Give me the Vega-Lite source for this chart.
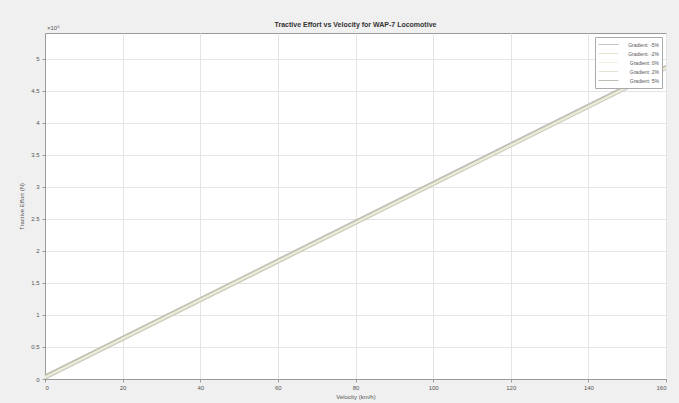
{
  "$schema": "https://vega.github.io/schema/vega-lite/v6.json",
  "autosize": {"type": "none"},
  "width": 621,
  "height": 346,
  "padding": {"left": 45, "top": 33, "right": 13, "bottom": 24},
  "background": "#f0f0f0",
  "title": {"text": "Tractive Effort vs Velocity for WAP-7 Locomotive", "fontSize": 7, "fontWeight": "bold", "color": "#333", "font": "Liberation Sans", "offset": -3},
  "config": {
    "view": {"fill": "white", "stroke": "#999", "strokeWidth": 1},
    "axis": {"labelFont": "Liberation Sans", "titleFont": "Liberation Sans", "labelFontSize": 6, "titleFontSize": 6, "labelColor": "#555", "titleColor": "#555", "titleFontWeight": "normal", "gridColor": "#e4e4e4", "domainColor": "#999", "tickColor": "#999", "tickSize": 3}
  },
  "datasets": {
    "lines": [
      {"v": 0, "F": 0, "g": "Gradient: -5%"},
      {"v": 160, "F": 483000, "g": "Gradient: -5%"},
      {"v": 0, "F": 1800, "g": "Gradient: -2%"},
      {"v": 160, "F": 484800, "g": "Gradient: -2%"},
      {"v": 0, "F": 3000, "g": "Gradient: 0%"},
      {"v": 160, "F": 486000, "g": "Gradient: 0%"},
      {"v": 0, "F": 4200, "g": "Gradient: 2%"},
      {"v": 160, "F": 487200, "g": "Gradient: 2%"},
      {"v": 0, "F": 6000, "g": "Gradient: 5%"},
      {"v": 160, "F": 489000, "g": "Gradient: 5%"}
    ],
    "exp": [{"v": 0, "F": 540000, "t": "×10⁵"}]
  },
  "layer": [
    {
      "data": {"name": "lines"},
      "mark": {"type": "line", "strokeWidth": 1.5, "clip": true},
      "encoding": {
        "x": {"field": "v", "type": "quantitative", "scale": {"domain": [0, 160], "nice": false}, "axis": {"values": [0, 20, 40, 60, 80, 100, 120, 140, 160], "title": "Velocity (km/h)", "titlePadding": 3, "labelPadding": 2}},
        "y": {"field": "F", "type": "quantitative", "scale": {"domain": [0, 540000], "nice": false}, "axis": {"values": [0, 50000, 100000, 150000, 200000, 250000, 300000, 350000, 400000, 450000, 500000], "labelExpr": "format(datum.value / 100000, '')", "labelOverlap": false, "title": "Tractive Effort (N)", "titlePadding": 6, "labelPadding": 3}},
        "color": {"field": "g", "type": "nominal", "sort": ["Gradient: -5%", "Gradient: -2%", "Gradient: 0%", "Gradient: 2%", "Gradient: 5%"],
          "scale": {"range": ["#c4c4bc", "#e6e6d0", "#f2f2dc", "#e6e6d0", "#bcbcb4"]},
          "legend": {"title": null, "orient": "top-right", "offset": 4, "symbolType": "stroke", "symbolSize": 400, "symbolStrokeWidth": 1, "labelFontSize": 5, "labelFont": "Liberation Sans", "labelColor": "#555", "fillColor": "white", "strokeColor": "#aaa", "padding": 3, "rowPadding": 0, "clipHeight": 9, "labelAlign": "right", "labelOffset": 40, "symbolOffset": 0}}
      }
    },
    {
      "data": {"name": "exp"},
      "mark": {"type": "text", "fontSize": 6, "font": "Liberation Sans", "color": "#555", "align": "left", "dy": -5, "dx": 2},
      "encoding": {
        "x": {"field": "v", "type": "quantitative", "scale": {"domain": [0, 160], "nice": false}, "axis": {"values": [0, 20, 40, 60, 80, 100, 120, 140, 160], "title": "Velocity (km/h)", "titlePadding": 3, "labelPadding": 2}},
        "y": {"field": "F", "type": "quantitative", "scale": {"domain": [0, 540000], "nice": false}, "axis": {"values": [0, 50000, 100000, 150000, 200000, 250000, 300000, 350000, 400000, 450000, 500000], "labelExpr": "format(datum.value / 100000, '')", "labelOverlap": false, "title": "Tractive Effort (N)", "titlePadding": 6, "labelPadding": 3}},
        "text": {"field": "t"}
      }
    }
  ]
}
